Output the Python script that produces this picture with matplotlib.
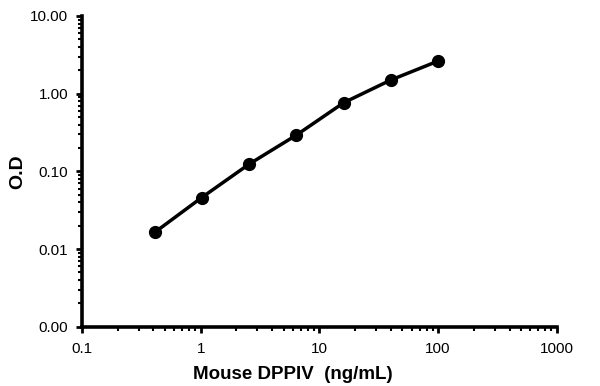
import matplotlib
matplotlib.use("Agg")
from matplotlib import pyplot as plt
from matplotlib.ticker import FuncFormatter, LogLocator

# Standard curve
conc = [0.41, 1.02, 2.56, 6.4, 16, 40, 100]
od = [0.0164, 0.046, 0.124, 0.293, 0.764, 1.50, 2.63]

plt.rcParams['font.family'] = ['Liberation Sans', 'DejaVu Sans']

fig = plt.figure(figsize=(6, 3.86), dpi=100)
ax = fig.add_axes([0.1367, 0.1536, 0.7913, 0.805])

ax.plot(conc, od, color='black', linewidth=2.5, marker='o', markersize=8.5)

ax.set_xscale('log')
ax.set_yscale('log')
ax.set_xlim(0.1, 1000)
ax.set_ylim(0.001, 10)

# y labels shown with two decimals (0.001 prints as 0.00)
ax.yaxis.set_major_formatter(FuncFormatter(lambda v, p: '%.2f' % v))
ax.xaxis.set_major_formatter(FuncFormatter(lambda v, p: '%g' % v))
ax.xaxis.set_major_locator(LogLocator(base=10, numticks=10))
ax.yaxis.set_major_locator(LogLocator(base=10, numticks=10))
ax.xaxis.set_minor_locator(LogLocator(base=10, subs=range(2, 10), numticks=10))
ax.yaxis.set_minor_locator(LogLocator(base=10, subs=range(2, 10), numticks=10))

for side in ['top', 'right']:
    ax.spines[side].set_visible(False)
for side in ['left', 'bottom']:
    ax.spines[side].set_linewidth(2.6)

ax.tick_params(which='major', direction='out', length=4, width=2, labelsize=11)
ax.tick_params(axis='x', which='major', pad=7)
ax.tick_params(axis='y', which='major', pad=6)
ax.tick_params(which='minor', direction='out', length=3, width=1.5)

ax.set_xlabel('Mouse DPPIV  (ng/mL)', fontsize=13.5, fontweight='bold')
ax.xaxis.set_label_coords(0.443, -0.125)
ax.set_ylabel('O.D', fontsize=14, fontweight='bold')
ax.yaxis.set_label_coords(-0.117, 0.5)

fig.savefig('out.png', dpi=100)
